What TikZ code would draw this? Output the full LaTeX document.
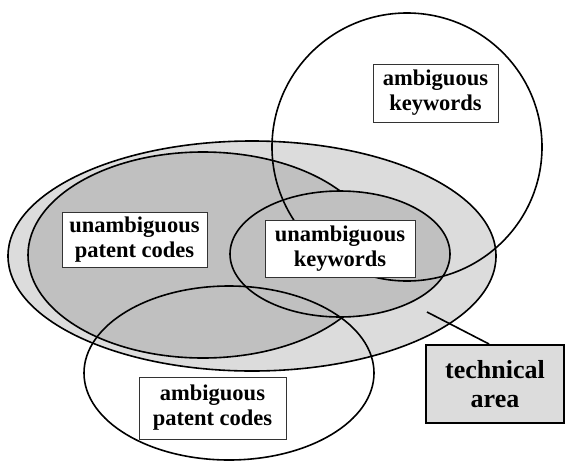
\documentclass[tikz,border=0pt]{standalone}
\usepackage{fontspec}
\setmainfont{Liberation Serif}
\usetikzlibrary{shapes.geometric}

\definecolor{areagray}{HTML}{DCDCDC}
\definecolor{codegray}{HTML}{C0C0C0}

\begin{document}
\begin{tikzpicture}[
    x=1pt, y=-1pt,
    region/.style={
        draw,
        ellipse,
        line width=1.6pt,
        inner sep=0pt
    },
    labelbox/.style={
        draw=black!80,
        rectangle,
        fill=white,
        align=center,
        line width=0.8pt,
        inner sep=0pt,
        font=\fontsize{22.5}{25}\selectfont\bfseries
    },
    pin/.style={line width=1.6pt}
]
\useasboundingbox (0,0) rectangle (565,461);

% === Filled regions ===
\node[region, fill=areagray, minimum width=488pt, minimum height=230pt] (techarea) at (252,256) {};
\node[region, fill=codegray, minimum width=350pt, minimum height=206pt] (codes) at (203,255) {};
\node[region, fill=codegray, minimum width=220pt, minimum height=126pt] (keywords) at (340,254) {};

% === Open regions ===
\node[region, minimum width=270pt, minimum height=268pt] (ambkeywords) at (407,147) {};
\node[region, minimum width=290pt, minimum height=174pt] (ambcodes) at (229,373) {};

% === Labels ===
\node[labelbox, minimum width=145pt, minimum height=55pt] (codeslabel) at (134.5,239.5) {unambiguous\\patent codes};
\node[labelbox, minimum width=150pt, minimum height=57pt] (keywordslabel) at (340,248.5) {unambiguous\\keywords};
\node[labelbox, minimum width=125pt, minimum height=58pt] (ambkeywordslabel) at (435.5,93) {ambiguous\\keywords};
\node[labelbox, minimum width=147pt, minimum height=62pt] (ambcodeslabel) at (212.5,408) {ambiguous\\patent codes};

% === Technical area ===
\node[labelbox, draw=black, fill=areagray, line width=2pt, minimum width=138pt, minimum height=78pt,
      font=\fontsize{26}{29}\selectfont\bfseries] (tech) at (495,384) {technical\\area};
\coordinate (techpin) at (427,312);
\draw[pin] (techpin) -- ([xshift=-6pt]tech.north);

\end{tikzpicture}
\end{document}
